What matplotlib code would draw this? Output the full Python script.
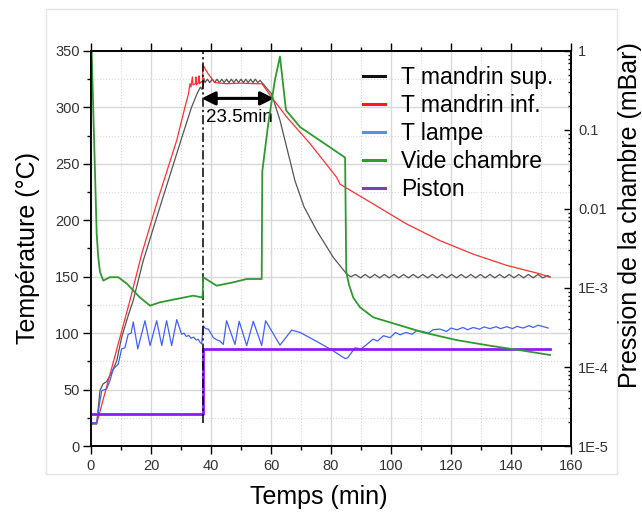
import matplotlib
matplotlib.use("Agg")
import matplotlib.pyplot as plt
from matplotlib.lines import Line2D
from matplotlib.patches import Rectangle
from matplotlib.ticker import MultipleLocator, LogLocator, NullFormatter

plt.rcParams["font.family"] = ["Liberation Sans", "DejaVu Sans"]

# T mandrin sup. (black)
sup_t = [0, 1.9, 3.0, 4.0, 5.2, 6.9, 8.6, 10.2, 12.4, 14.1, 17.4, 22.9, 30.0, 33.5, 35.5, 36.5, 37.0,
         37.3, 37.6, 38.0, 38.8, 39.6, 40.4, 41.2, 42.0, 42.8, 43.6, 44.4, 45.2, 46.0, 46.8, 47.6,
         48.4, 49.2, 50.0, 50.8, 51.6, 52.4, 53.2, 54.0, 54.8, 55.6, 56.4, 57.0,
         60.2, 63.0, 68.0, 71.0, 75.2, 80.8, 85.2, 86.6,
         88.2, 89.8, 91.4, 93.0, 94.6, 96.2, 97.8, 99.4, 101.0, 102.6, 104.2, 105.8, 107.4, 109.0,
         110.6, 112.2, 113.8, 115.4, 117.0, 118.6, 120.2, 121.8, 123.4, 125.0, 126.6, 128.2, 129.8,
         131.4, 133.0, 134.6, 136.2, 137.8, 139.4, 141.0, 142.6, 144.2, 145.8, 147.4, 149.0, 150.6,
         152.2, 153.0]
sup_T = [19.5, 19.5, 49, 55, 57, 65, 75.5, 96, 115.5, 129, 164, 211, 271, 300, 313, 318, 316,
         319, 326, 322, 325, 322, 325, 322, 325, 322, 325, 322, 325, 322, 325, 322,
         325, 322, 325, 322, 325, 322, 325, 322, 325, 322, 324, 322,
         312, 288.6, 235, 212, 191, 167, 152.5, 150,
         152, 149, 152, 149, 152, 149, 152, 149, 152, 149, 152, 149, 152, 149,
         152, 149, 152, 149, 152, 149, 152, 149, 152, 149, 152, 149, 152,
         149, 152, 149, 152, 149, 152, 149, 152, 149, 152, 149, 152, 149,
         151, 150]

# T mandrin inf. (red)
inf_t = [0, 1.9, 13.0, 16.9, 22.5, 28.6, 31.3, 32.5, 33.0, 33.3, 33.8, 34.0, 34.8, 35.0, 35.2,
         35.8, 36.0, 36.2, 36.8, 37.2, 37.3, 39.0, 41.3, 45, 50, 55, 57.0, 60.2, 65.2, 73.0,
         81.9, 83.0, 94.0, 105.0, 116.3, 127.4, 138.6, 149.7, 153.0]
inf_T = [19.8, 19.8, 129, 170, 220, 271, 300, 312, 321, 318, 327, 320, 321, 327, 320,
         322, 328, 321, 323, 322, 337.5, 330, 322, 321, 321.5, 321, 321, 309, 291.6, 268,
         238, 232, 214.6, 197, 182, 170, 160, 152.5, 149.5]

# T lampe (blue)
lampe_t = [0, 1.9, 3.0, 3.6, 5.2, 6.3, 7.4, 9.1, 10.2, 11.3, 12.4, 13.4, 14.1, 15.6, 18.0, 19.7,
           21.9, 23.6, 25.2, 26.9, 28.6, 30.2, 31.0, 31.8, 32.6, 33.4, 34.2, 35.0, 35.8, 36.3,
           36.9, 37.4, 38.2, 39.1, 40.8, 42.0, 43.0, 44.1, 45.2, 48.0, 49.4, 51.9, 54.1, 56.9,
           58.2, 63.0, 66.9, 69.7, 75.0, 80.0, 84.7, 85.5, 86.9, 88.0, 90.0, 91.5, 94.0, 95.5,
           97.5, 99.7, 101.5, 103.0, 105.0, 107.0, 108.5, 110.6, 112.5, 114.0, 116.3, 118.5,
           120.0, 122.0, 124.0, 125.5, 127.4, 129.5, 131.0, 133.0, 135.0, 136.5, 138.6, 140.5,
           142.0, 144.0, 146.0, 147.4, 149.0, 150.5, 152.4]
lampe_T = [20.7, 20.7, 40, 49, 50.6, 57.7, 68, 72.7, 86, 87, 99, 100, 110, 86, 111, 89,
           111, 89, 111, 89, 112, 99, 100, 97, 98, 95.5, 96.5, 94, 94.5, 92,
           90.5, 106.6, 104, 103.6, 96, 94, 93, 90, 111, 90, 110.5, 89, 110.5, 89,
           111, 89.4, 102.7, 100.6, 93, 85.5, 77.5, 78, 83, 87, 86, 89, 94.7, 93,
           97.7, 96, 100.6, 98.5, 100.6, 99, 102, 101.5, 100, 103, 103.6, 101.5,
           104.5, 103, 105, 103, 105, 103.5, 105.5, 104, 105.7, 104, 105.7, 104,
           106, 104.5, 106.6, 105, 107, 106, 104.5]

# Vide chambre (green, mBar)
vide_t = [0, 0, 0.23, 1.9, 2.4, 3.0, 4.1, 6.3, 9.1, 11.9, 16.3, 19.7, 23.0, 28.6, 34.1, 36.9,
          37.2, 37.4, 41.9, 47.4, 51.9, 56.9, 57.1, 59.1, 61.3, 63.0, 65.0, 69.7, 84.7, 85.1,
          86.0, 87.4, 89.7, 94.1, 99.7, 110.8, 121.9, 133.0, 144.0, 153.0]
vide_p = [1e-5, 2.0, 1.0, 4.9e-3, 2.5e-3, 1.6e-3, 1.24e-3, 1.37e-3, 1.37e-3, 1.14e-3, 7.6e-4, 5.98e-4,
          6.59e-4, 7.27e-4, 8.0e-4, 7.6e-4,
          7.6e-4, 1.37e-3, 1.07e-3, 1.18e-3, 1.3e-3, 1.3e-3, 0.03, 0.121, 0.428, 0.85, 0.178, 0.109,
          0.0448, 1.6e-3, 1.1e-3, 7.6e-4, 5.69e-4, 4.25e-4, 3.67e-4, 2.74e-4, 2.19e-4, 1.86e-4,
          1.61e-4, 1.42e-4]

# Piston (purple)
piston_t = [0, 37.2, 37.2, 153]
piston_y = [28.7, 28.7, 85.8, 85.8]

legend_labels = ["T mandrin sup.", "T mandrin inf.", "T lampe", "Vide chambre", "Piston"]
legend_colors = ["#111111", "#ff1a1a", "#5b8fdc", "#2ca02c", "#7b3fb8"]
pressure_ticks = [1e-5, 1e-4, 1e-3, 1e-2, 1e-1, 1]
pressure_labels = ["1E-5", "1E-4", "1E-3", "0.01", "0.1", "1"]

fig = plt.figure(figsize=(6.42, 5.13), dpi=100)
fig.patches.append(Rectangle((0.0717, 0.076), 0.889, 0.906, transform=fig.transFigure,
                             fill=False, edgecolor="#e4e4e4", lw=1.0))
ax = fig.add_axes([0.1417, 0.1306, 0.7477, 0.77])
ax2 = ax.twinx()

ax.plot(sup_t, sup_T, color="#555555", lw=0.9, zorder=3)
ax.plot(inf_t, inf_T, color="#ff3030", lw=0.9, zorder=3)
ax.plot(lampe_t, lampe_T, color="#4060ff", lw=0.9, zorder=3)
ax.plot(piston_t, piston_y, color="#8c1aff", lw=2.0, zorder=4)
ax.plot([37.2, 37.2], [20, 350], color="black", lw=1.1, linestyle=(0, (6, 2, 1.5, 2)), zorder=5)
ax2.plot(vide_t, vide_p, color="#2f9a2f", lw=1.3)

ax.annotate("", xy=(36.9, 308), xytext=(61.0, 308),
            arrowprops=dict(arrowstyle="<|-|>", color="black", lw=2.2, mutation_scale=20,
                            shrinkA=0, shrinkB=0), zorder=6)
ax.text(38.3, 291, "23.5min", fontsize=13.5, va="center", ha="left", zorder=6)

ax.set_xlim(0, 160)
ax.set_ylim(0, 350)
ax.xaxis.set_major_locator(MultipleLocator(20))
ax.xaxis.set_minor_locator(MultipleLocator(10))
ax.yaxis.set_major_locator(MultipleLocator(50))
ax.yaxis.set_minor_locator(MultipleLocator(25))
ax.grid(which="major", color="#d8d8d8", lw=1.0, zorder=0)
ax.grid(which="minor", color="#d8d8d8", lw=0.8, linestyle=":", zorder=0)
ax.set_axisbelow(True)
ax.tick_params(which="both", direction="out", top=True, right=False, labelsize=10.5,
               labelcolor="#333333", width=1.0)
ax.tick_params(which="major", length=6)
ax.tick_params(which="minor", length=3)
ax.tick_params(axis="x", pad=3)
ax.tick_params(axis="y", pad=2)

ax2.set_yscale("log")
ax2.set_ylim(1e-5, 1)
ax2.set_yticks(pressure_ticks)
ax2.set_yticklabels(pressure_labels)
ax2.yaxis.set_minor_locator(LogLocator(base=10, subs=range(2, 10), numticks=20))
ax2.yaxis.set_minor_formatter(NullFormatter())
ax2.tick_params(which="both", direction="in", labelsize=10.5, labelcolor="#333333", width=1.0, pad=5)
ax2.tick_params(which="major", length=5)
ax2.tick_params(which="minor", length=2.5)

for spine in list(ax.spines.values()) + list(ax2.spines.values()):
    spine.set_linewidth(1.2)
    spine.set_color("black")

fig.text(0.044, 0.516, "Température (°C)", rotation=90, fontsize=18, ha="center", va="center")
fig.text(0.982, 0.58, "Pression de la chambre (mBar)", rotation=90, fontsize=18, ha="center", va="center")
fig.text(0.497, 0.031, "Temps (min)", fontsize=18, ha="center", va="center")

handles = [Line2D([0], [0], color=c, lw=2.2) for c in legend_colors]
ax.legend(handles, legend_labels, loc="upper left", bbox_to_anchor=(0.566, 0.872),
          bbox_transform=fig.transFigure, frameon=False, fontsize=16.5, handlelength=0.95,
          handletextpad=0.7, labelspacing=0.22, borderpad=0, borderaxespad=0)

fig.savefig("out.png", dpi=100)
